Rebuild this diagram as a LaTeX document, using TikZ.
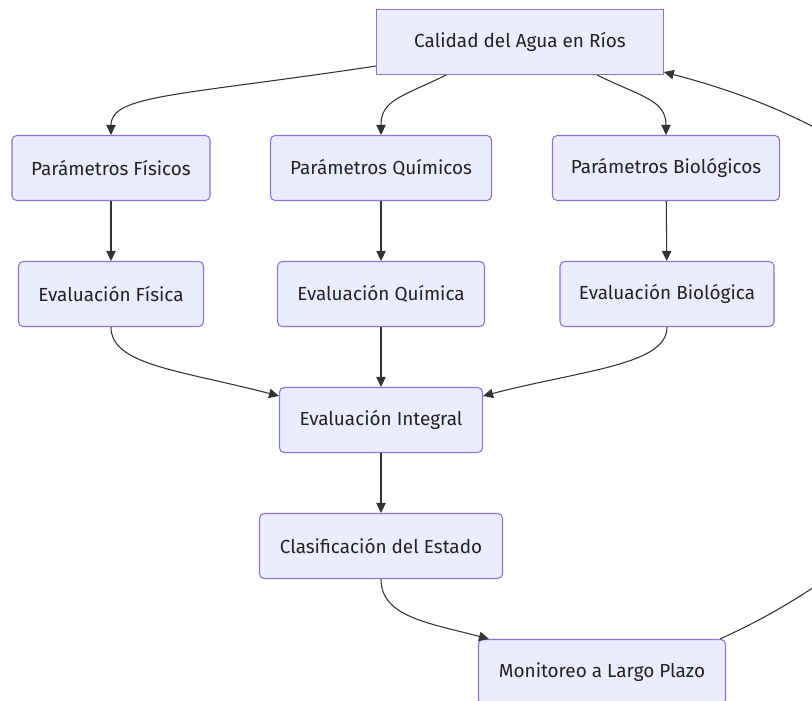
\documentclass[tikz,border=0pt]{standalone}
\usepackage{fontspec}
\setmainfont{Fira Sans}
\definecolor{NodeFill}{HTML}{ECECFF}
\definecolor{NodeLine}{HTML}{9370DB}
\definecolor{EdgeColor}{HTML}{333333}
\definecolor{TextColor}{HTML}{222222}
\usetikzlibrary{positioning, arrows.meta, calc}
\tikzstyle{edge} = [thick, EdgeColor, ->, >={Triangle[length=7.5pt, width=7pt]}]
\tikzset{
  box/.style={rectangle, draw=NodeLine, fill=NodeFill, line width=0.8pt, minimum height=48.75pt,
    text=TextColor, font=\fontsize{14.2}{16}\selectfont, rounded corners=3.5pt},
  rootbox/.style={box, rounded corners=0pt}
}
\begin{document}
\begin{tikzpicture}[x=0.75pt, y=-0.75pt]
                \useasboundingbox (0,0) rectangle (812,700);
                % Root
                \node[rootbox, minimum width=215pt] (cal) at (520,42) {Calidad del Agua en Ríos};

                % Parameters
                \node[box, minimum width=148.5pt] (pf) at (111,168) {Parámetros Físicos};
                \node[box, minimum width=165.75pt] (pq) at (381,168) {Parámetros Químicos};
                \node[box, minimum width=170.25pt] (pb) at (666,168) {Parámetros Biológicos};

                % Evaluations
                \node[box, minimum width=138.75pt] (ef) at (111,294) {Evaluación Física};
                \node[box, minimum width=155.25pt] (eq) at (381,294) {Evaluación Química};
                \node[box, minimum width=160.5pt] (eb) at (667,294) {Evaluación Biológica};

                \node[box, minimum width=152.25pt] (ei) at (381,420) {Evaluación Integral};
                \node[box, minimum width=182.25pt] (ce) at (381,546) {Clasificación del Estado};
                \node[box, minimum width=185.25pt] (mon) at (602,672) {Monitoreo a Largo Plazo};

                % Edges
                \draw[edge] ($(cal.south west)+(0,-9)$) .. controls +(-200,30) and +(0,-40) .. (pf.north);
                \draw[edge] ($(cal.south west)+(70,0)$) .. controls +(-45,22) and +(0,-35) .. (pq.north);
                \draw[edge] ($(cal.south)+(77,0)$) .. controls +(45,22) and +(0,-35) .. (pb.north);

                \draw[edge] (pf) -- (ef);
                \draw[edge] (pq) -- (eq);
                \draw[edge] (pb) -- (eb);

                \draw[edge] (ef.south) .. controls +(0,38) and +(-100,-26) .. ($(ei.north west)+(0,9)$);
                \draw[edge] (eq) -- (ei);
                \draw[edge] (eb.south) .. controls +(0,38) and +(100,-26) .. ($(ei.north east)+(0,9)$);

                \draw[edge] (ei) -- (ce);
                \draw[edge] (ce.south) .. controls +(0,38) and +(-60,-16) .. ($(mon.north west)+(11,0)$);

                % Feedback loop
                \draw[edge] ($(mon.north east)+(-6,0)$) .. controls +(330,-150) and +(420,110) .. ($(cal.south east)+(0,-3)$);
            \end{tikzpicture}
\end{document}
